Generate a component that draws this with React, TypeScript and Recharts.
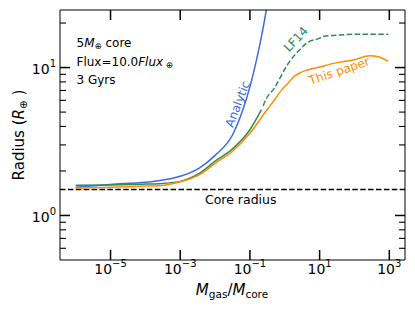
import { LineChart, Line, XAxis, YAxis, ReferenceLine } from 'recharts';

// gas-to-core mass ratio and radius (Earth radii)
const analyticMass = [1e-6, 1e-5, 1e-4, 2.5e-4, 1e-3, 3.6e-3, 1e-2, 0.0316, 0.063, 0.1, 0.155, 0.214, 0.295, 0.355];
const analyticRadius = [1.55, 1.62, 1.68, 1.72, 1.84, 2.1, 2.55, 3.5, 5.2, 7.4, 11.3, 16.2, 24.5, 32];

const paperMass = [1e-6, 1e-5, 1e-4, 2.5e-4, 1e-3, 3.6e-3, 1e-2, 0.0316, 0.1, 0.295, 0.51, 0.89, 1.38, 1.74, 2.69, 4.17, 10, 31.6, 100, 275, 500, 930];
const paperRadius = [1.53, 1.55, 1.58, 1.59, 1.69, 1.89, 2.25, 2.72, 3.6, 5.1, 6.06, 7.26, 8.05, 8.6, 9.2, 9.6, 10.1, 10.8, 11.3, 12.0, 11.8, 11.0];

const lf14Mass = [1e-6, 1e-5, 1e-4, 2.5e-4, 1e-3, 3.6e-3, 1e-2, 0.0316, 0.1, 0.214];
const lf14Radius = [1.6, 1.61, 1.63, 1.64, 1.7, 1.93, 2.33, 2.82, 3.8, 5.19];

const lf14HighMass = [0.24, 0.27, 0.51, 1.12, 1.38, 2.69, 4.17, 10, 12.6, 38, 115, 930];
const lf14HighRadius = [5.5, 5.9, 7.3, 10.2, 11.0, 13.2, 14.6, 15.8, 16.2, 16.6, 16.8, 16.8];

const coreRadius = 1.5;

const xTicks = [1e-5, 1e-3, 1e-1, 1e1, 1e3];
const yTicks = [0.6, 0.7, 0.8, 0.9, 1, 2, 3, 4, 5, 6, 7, 8, 9, 10, 20];

const xDomain = [Math.pow(10, -6.45), Math.pow(10, 3.45)];
const yDomain = [0.5, 24.5];

const toRows = (xs: number[], ys: number[]) => xs.map((m, i) => ({ m, r: ys[i] }));

const analytic = toRows(analyticMass, analyticRadius);
const paper = toRows(paperMass, paperRadius);
const lf14 = toRows(lf14Mass, lf14Radius);
const lf14High = toRows(lf14HighMass, lf14HighRadius);

const FONT = '"DejaVu Sans", sans-serif';
const BLUE = '#4169e1';
const GREEN = '#2e8b57';
const ORANGE = '#ff8c00';

const isMajor = (v: number) => Math.abs(Math.log10(v) - Math.round(Math.log10(v))) < 1e-6;
const expText = (v: number) => {
  const e = Math.round(Math.log10(v));
  return e < 0 ? '\u2212' + -e : String(e);
};

const BottomTick = (props: any) => {
  const { x, y, payload } = props;
  return (
    <g>
      <line x1={x} y1={y} x2={x} y2={y - 10} stroke="#000" strokeWidth={1.5} />
      <text x={x} y={y + 14} textAnchor="middle" fontSize={14} fontFamily={FONT} fill="#000">
        10<tspan dy={-7} fontSize={10}>{expText(payload.value)}</tspan>
      </text>
    </g>
  );
};

const TopTick = (props: any) => {
  const { x, y } = props;
  return <line x1={x} y1={y} x2={x} y2={y + 10} stroke="#000" strokeWidth={1.5} />;
};

const LeftTick = (props: any) => {
  const { x, y, payload } = props;
  const major = isMajor(payload.value);
  return (
    <g>
      <line x1={x} y1={y} x2={x + (major ? 10 : 6)} y2={y} stroke="#000" strokeWidth={major ? 1.5 : 1.1} />
      {major && (
        <text x={x - 4} y={y + 6.5} textAnchor="end" fontSize={14} fontFamily={FONT} fill="#000">
          10<tspan dy={-7} fontSize={10}>{expText(payload.value)}</tspan>
        </text>
      )}
    </g>
  );
};

const RightTick = (props: any) => {
  const { x, y, payload } = props;
  const major = isMajor(payload.value);
  return <line x1={x} y1={y} x2={x - (major ? 10 : 6)} y2={y} stroke="#000" strokeWidth={major ? 1.5 : 1.1} />;
};

const rotated = (text: string, cx: number, cy: number, angle: number, color: string) => (
  <text
    x={cx}
    y={cy}
    dy="0.35em"
    textAnchor="middle"
    fontSize={12}
    fontFamily={FONT}
    fill={color}
    transform={`rotate(${angle} ${cx} ${cy})`}
  >
    {text}
  </text>
);

export default function App() {
  return (
    <div style={{ position: 'absolute', left: 0, top: 0, width: 415, height: 311, background: '#fff' }}>
      <LineChart width={415} height={311} margin={{ top: 0, right: 0, bottom: 0, left: 0 }}>
        <XAxis
          xAxisId="b"
          type="number"
          dataKey="m"
          scale="log"
          domain={xDomain}
          allowDataOverflow
          ticks={xTicks}
          height={51}
          tickLine={false}
          tickSize={0}
          tickMargin={0}
          axisLine={{ stroke: '#000', strokeWidth: 1 }}
          tick={BottomTick}
          interval={0}
        />
        <XAxis
          xAxisId="t"
          orientation="top"
          type="number"
          dataKey="m"
          scale="log"
          domain={xDomain}
          allowDataOverflow
          ticks={xTicks}
          height={10}
          tickLine={false}
          tickSize={0}
          tickMargin={0}
          axisLine={{ stroke: '#000', strokeWidth: 1 }}
          tick={TopTick}
          interval={0}
        />
        <YAxis
          yAxisId="l"
          type="number"
          dataKey="r"
          scale="log"
          domain={yDomain}
          allowDataOverflow
          ticks={yTicks}
          width={60}
          tickLine={false}
          tickSize={0}
          tickMargin={0}
          axisLine={{ stroke: '#000', strokeWidth: 1 }}
          tick={LeftTick}
          interval={0}
        />
        <YAxis
          yAxisId="r"
          orientation="right"
          type="number"
          dataKey="r"
          scale="log"
          domain={yDomain}
          allowDataOverflow
          ticks={yTicks}
          width={10}
          tickLine={false}
          tickSize={0}
          tickMargin={0}
          axisLine={{ stroke: '#000', strokeWidth: 1 }}
          tick={RightTick}
          interval={0}
        />
        <ReferenceLine
          xAxisId="b"
          yAxisId="l"
          y={coreRadius}
          stroke="#000"
          strokeWidth={1.5}
          strokeDasharray="5.5 2.4"
        />
        <Line
          xAxisId="b"
          yAxisId="l"
          data={analytic}
          dataKey="r"
          type="monotone"
          stroke={BLUE}
          strokeWidth={1.5}
          dot={false}
          activeDot={false}
          isAnimationActive={false}
        />
        <Line
          xAxisId="b"
          yAxisId="l"
          data={lf14}
          dataKey="r"
          type="monotone"
          stroke={GREEN}
          strokeWidth={1.5}
          dot={false}
          activeDot={false}
          isAnimationActive={false}
        />
        <Line
          xAxisId="b"
          yAxisId="l"
          data={lf14High}
          dataKey="r"
          type="monotone"
          stroke={GREEN}
          strokeWidth={1.5}
          strokeDasharray="5.5 2.4"
          dot={false}
          activeDot={false}
          isAnimationActive={false}
        />
        <Line
          xAxisId="b"
          yAxisId="l"
          data={paper}
          dataKey="r"
          type="monotone"
          stroke={ORANGE}
          strokeWidth={1.5}
          dot={false}
          activeDot={false}
          isAnimationActive={false}
        />
      </LineChart>
      <svg
        width={415}
        height={311}
        style={{ position: 'absolute', left: 0, top: 0, pointerEvents: 'none' }}
      >
        <g fontFamily={FONT} fontSize={12} fill="#000">
          <text x={76.5} y={46.5}>
            5<tspan fontStyle="italic">M</tspan>
            <tspan fontSize={8.5} dy={2}>{'\u2295'}</tspan>
            <tspan dy={-2}>{'\u00a0core'}</tspan>
          </text>
          <text x={76.5} y={66}>
            Flux=10.0<tspan fontStyle="italic">Flux</tspan>
            <tspan fontSize={8.5} dy={2}>{'\u00a0\u2295'}</tspan>
          </text>
          <text x={76.5} y={84}>3 Gyrs</text>
        </g>
        <text x={240.7} y={204} textAnchor="middle" fontSize={12.5} fontFamily={FONT} fill="#000">
          Core radius
        </text>
        {rotated('Analytic', 237.5, 104, -69, BLUE)}
        {rotated('LF14', 295.8, 39.2, -47, GREEN)}
        {rotated('This paper', 339.2, 70.8, -18.5, ORANGE)}
        <text x={232} y={295} textAnchor="middle" fontSize={15} fontFamily={FONT} fill="#000">
          <tspan fontStyle="italic">M</tspan>
          <tspan fontSize={10.5} dy={2.5}>gas</tspan>
          <tspan dy={-2.5}>/</tspan>
          <tspan fontStyle="italic">M</tspan>
          <tspan fontSize={10.5} dy={2.5}>core</tspan>
        </text>
        <text
          x={24}
          y={135}
          textAnchor="middle"
          fontSize={15}
          fontFamily={FONT}
          fill="#000"
          transform="rotate(-90 24 135)"
        >
          Radius (<tspan fontStyle="italic">R</tspan>
          <tspan fontSize={10.5} dy={2.5}>{'\u2295'}</tspan>
          <tspan dy={-2.5}>{'\u00a0)'}</tspan>
        </text>
      </svg>
    </div>
  );
}
